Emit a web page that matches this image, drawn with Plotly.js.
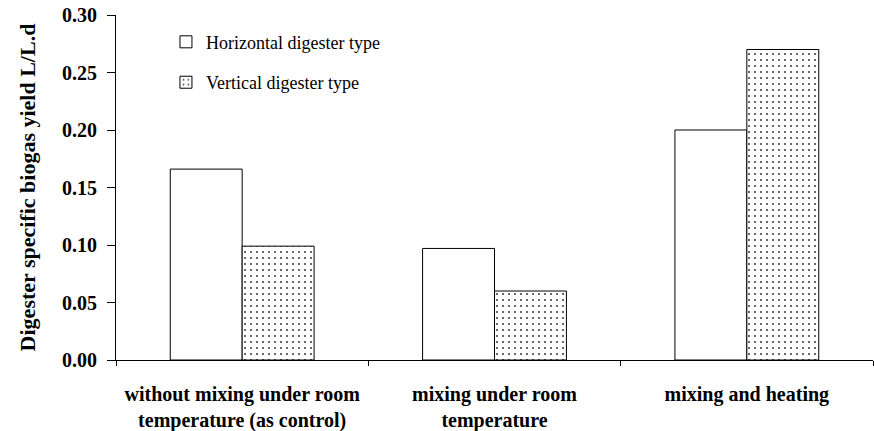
<!DOCTYPE html>
<html><head><meta charset="utf-8">
<script src="https://cdn.plot.ly/plotly-3.0.1.min.js"></script>
<style>body{margin:0;background:#fff}#c{width:874px;height:431px}</style>
</head><body><div id="c"></div>
<script>
const categories = ["without mixing under room<br>temperature (as control)", "mixing under room<br>temperature", "mixing and heating"];
const horizontal = [0.166, 0.097, 0.200];
const vertical = [0.099, 0.060, 0.270];
const yTicks = [0, 0.05, 0.10, 0.15, 0.20, 0.25, 0.30];
const yTickLabels = ["0.00", "0.05", "0.10", "0.15", "0.20", "0.25", "0.30"];

const F = "Liberation Serif";
const traces = [
  {type: "bar", name: "Horizontal digester type", x: categories, y: horizontal, legendgroup: "h",
   marker: {color: "#ffffff", line: {color: "#000000", width: 1}}},
  {type: "bar", name: "Vertical digester type", x: categories, y: vertical, legendgroup: "v",
   marker: {color: "#ffffff", line: {color: "#000000", width: 1},
            pattern: {shape: ".", fgcolor: "#444444", bgcolor: "#ffffff", size: 6, solidity: 0.1}}}
];
const layout = {
  width: 874, height: 431,
  margin: {l: 116, r: 1, t: 15, b: 71},
  paper_bgcolor: "#fff", plot_bgcolor: "#fff",
  font: {family: F, color: "#000"},
  barmode: "group", bargap: 0.43, bargroupgap: 0,
  showlegend: true,
  legend: {x: 0.066, y: 0.975, xanchor: "left", yanchor: "top", bgcolor: "rgba(0,0,0,0)",
           font: {size: 18, family: F}, tracegroupgap: 14, itemwidth: 30, traceorder: "grouped"},
  xaxis: {showline: true, linecolor: "#000", linewidth: 1, ticks: "outside", tickson: "boundaries",
          ticklen: 5, tickcolor: "#000", showgrid: false, zeroline: false, automargin: false,
          ticklabelstandoff: 16,
          tickfont: {size: 20, family: F, weight: "bold"}},
  yaxis: {range: [0, 0.30], tickvals: yTicks, ticktext: yTickLabels, showline: true, linecolor: "#000",
          linewidth: 1, ticks: "outside", ticklen: 8, tickcolor: "#000", showgrid: false, zeroline: false,
          automargin: false, ticklabelstandoff: 6,
          tickfont: {size: 20, family: F, weight: "bold"},
          title: {text: "<b>Digester specific biogas yield L/L.d</b>", standoff: 20,
                  font: {size: 22, family: F}}}
};
Plotly.newPlot("c", traces, layout, {displayModeBar: false, staticPlot: true});
</script></body></html>
